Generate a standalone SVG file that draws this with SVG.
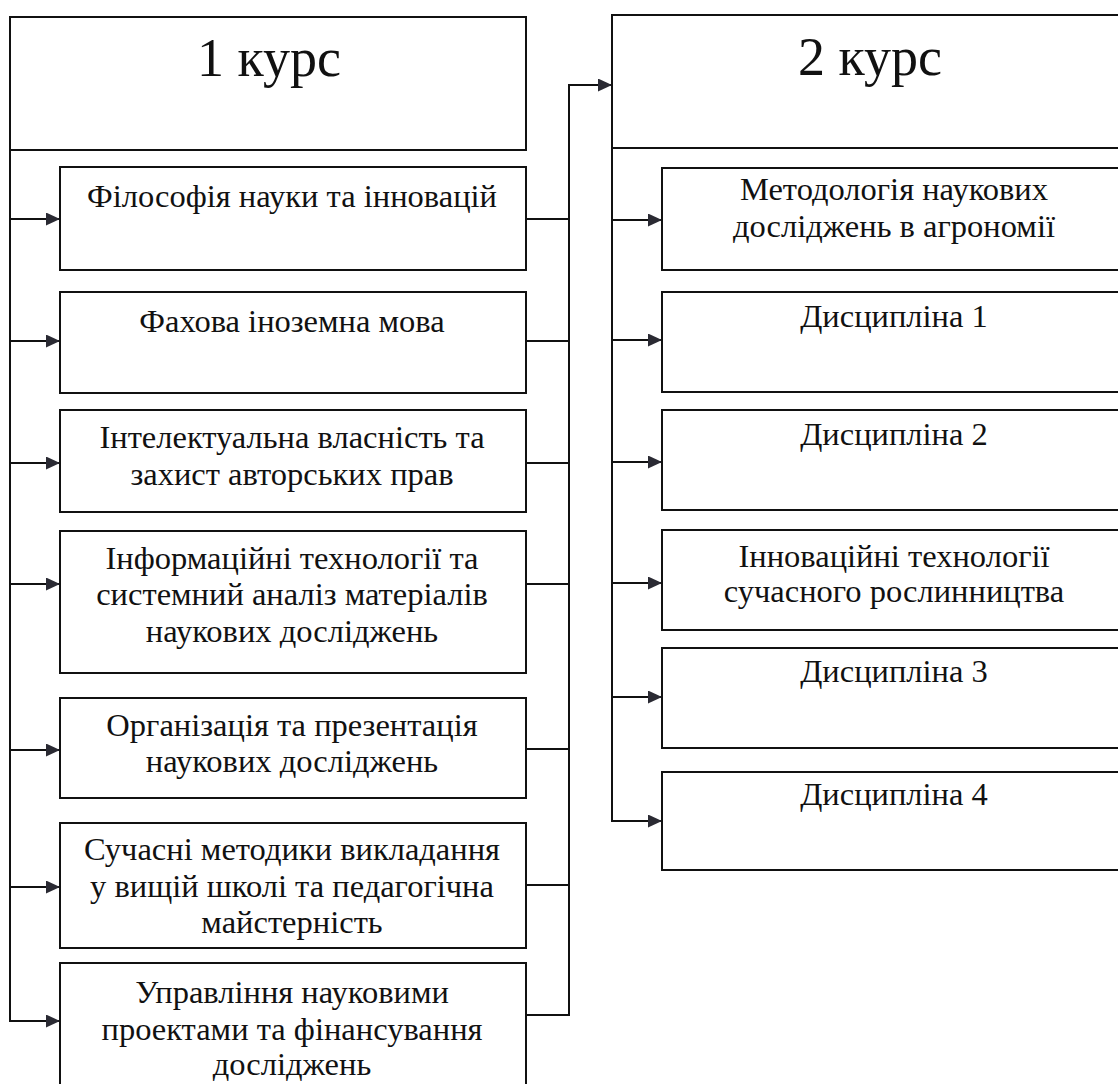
<svg xmlns="http://www.w3.org/2000/svg" width="1118" height="1084" viewBox="0 0 1118 1084">
<style>
.box{fill:#fff;stroke:#111;stroke-width:2}
.t{font-family:"Liberation Serif","Times New Roman",serif;font-size:32.5px;fill:#111;text-anchor:middle}
.h{font-family:"Liberation Serif","Times New Roman",serif;font-size:54px;fill:#111;text-anchor:middle}
.c{fill:none;stroke:#111;stroke-width:2}
</style>
<defs>
<marker id="ar" markerUnits="userSpaceOnUse" markerWidth="14" markerHeight="13" refX="14" refY="6.5" orient="auto">
<path d="M0,0 L14,6.5 L0,13 z" fill="#2a2a33"/>
</marker>
</defs>
<rect width="1118" height="1084" fill="#fff"/>
<g id="connectors">
<path class="c" d="M10 150 V1021 H60" marker-end="url(#ar)"/>
<path class="c" d="M10 219 H60" marker-end="url(#ar)"/>
<path class="c" d="M10 341 H60" marker-end="url(#ar)"/>
<path class="c" d="M10 463 H60" marker-end="url(#ar)"/>
<path class="c" d="M10 584 H60" marker-end="url(#ar)"/>
<path class="c" d="M10 750 H60" marker-end="url(#ar)"/>
<path class="c" d="M10 887 H60" marker-end="url(#ar)"/>
<path class="c" d="M526 219 H569"/>
<path class="c" d="M526 341 H569"/>
<path class="c" d="M526 463 H569"/>
<path class="c" d="M526 584 H569"/>
<path class="c" d="M526 749 H569"/>
<path class="c" d="M526 885 H569"/>
<path class="c" d="M526 1015 H569 V85 H612" marker-end="url(#ar)"/>
<path class="c" d="M612 148 V821 H662" marker-end="url(#ar)"/>
<path class="c" d="M612 220 H662" marker-end="url(#ar)"/>
<path class="c" d="M612 340 H662" marker-end="url(#ar)"/>
<path class="c" d="M612 462 H662" marker-end="url(#ar)"/>
<path class="c" d="M612 583 H662" marker-end="url(#ar)"/>
<path class="c" d="M612 697 H662" marker-end="url(#ar)"/>
</g>
<g id="course1">
<rect class="box" x="10" y="17" width="516" height="133"/>
<text class="h" x="269" y="76">1 курс</text>
</g>
<g id="l1"><rect class="box" x="60" y="167" width="466" height="103"/><text class="t" x="292" y="207">Філософія науки та інновацій</text></g>
<g id="l2"><rect class="box" x="60" y="292" width="466" height="101"/><text class="t" x="292" y="332">Фахова іноземна мова</text></g>
<g id="l3"><rect class="box" x="60" y="410" width="466" height="102"/><text class="t" x="292" y="448">Інтелектуальна власність та</text><text class="t" x="292" y="485">захист авторських прав</text></g>
<g id="l4"><rect class="box" x="60" y="531" width="466" height="142"/><text class="t" x="292" y="569">Інформаційні технології та</text><text class="t" x="292" y="605">системний аналіз матеріалів</text><text class="t" x="292" y="642">наукових досліджень</text></g>
<g id="l5"><rect class="box" x="60" y="698" width="466" height="100"/><text class="t" x="292" y="736">Організація та презентація</text><text class="t" x="292" y="772">наукових досліджень</text></g>
<g id="l6"><rect class="box" x="60" y="823" width="466" height="125"/><text class="t" x="292" y="860">Сучасні методики викладання</text><text class="t" x="292" y="897">у вищій школі та педагогічна</text><text class="t" x="292" y="933">майстерність</text></g>
<g id="l7"><rect class="box" x="60" y="963" width="466" height="140"/><text class="t" x="292" y="1003">Управління науковими</text><text class="t" x="292" y="1040">проектами та фінансування</text><text class="t" x="292" y="1075">досліджень</text></g>
<g id="course2">
<rect class="box" x="612" y="15" width="520" height="133"/>
<text class="h" x="870" y="75">2 курс</text>
</g>
<g id="r1"><rect class="box" x="662" y="168" width="470" height="102"/><text class="t" x="894" y="200">Методологія наукових</text><text class="t" x="894" y="237">досліджень в агрономії</text></g>
<g id="r2"><rect class="box" x="662" y="292" width="470" height="100"/><text class="t" x="894" y="327">Дисципліна 1</text></g>
<g id="r3"><rect class="box" x="662" y="410" width="470" height="100"/><text class="t" x="894" y="445">Дисципліна 2</text></g>
<g id="r4"><rect class="box" x="662" y="530" width="470" height="100"/><text class="t" x="894" y="567">Інноваційні технології</text><text class="t" x="894" y="602">сучасного рослинництва</text></g>
<g id="r5"><rect class="box" x="662" y="648" width="470" height="100"/><text class="t" x="894" y="682">Дисципліна 3</text></g>
<g id="r6"><rect class="box" x="662" y="772" width="470" height="98"/><text class="t" x="894" y="805">Дисципліна 4</text></g>
</svg>
